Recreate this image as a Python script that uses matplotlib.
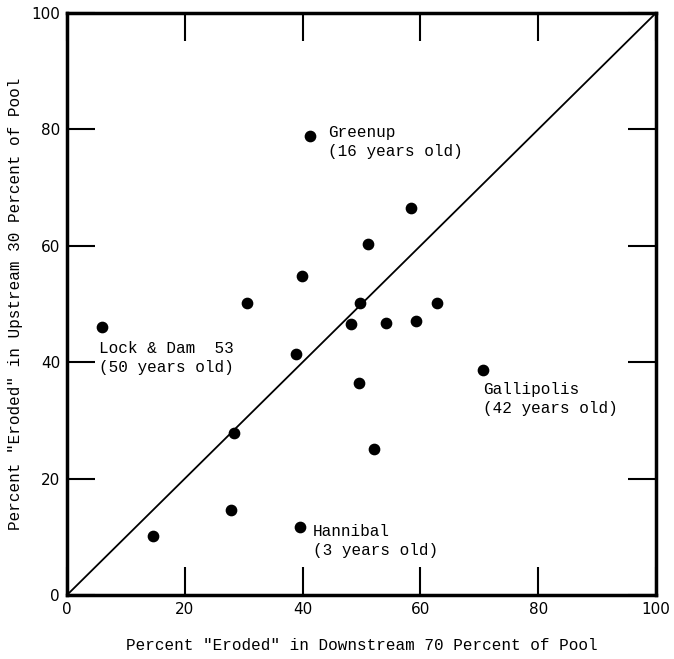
import matplotlib
matplotlib.use("Agg")
import matplotlib.pyplot as plt

# percent "eroded": downstream 70 % (x) vs upstream 30 % (y)
downstream = [5.9, 14.6, 27.8, 28.4, 30.6, 38.9, 39.6, 39.9, 41.3, 48.2,
              49.6, 49.7, 51.1, 52.1, 54.2, 59.3, 58.4, 62.8, 70.6]
upstream = [46.0, 10.1, 14.6, 27.8, 50.2, 41.4, 11.7, 54.8, 78.9, 46.6,
            36.4, 50.2, 60.3, 25.1, 46.7, 47.1, 66.5, 50.2, 38.7]

# named pools: label and text position
pool_names = ["Greenup\n(16 years old)", "Lock & Dam  53\n(50 years old)",
              "Gallipolis\n(42 years old)", "Hannibal\n(3 years old)"]
pool_text = [(44.3, 80.8), (5.4, 43.6), (70.6, 36.6), (41.8, 12.2)]

mono = "Liberation Mono"

fig = plt.figure(figsize=(6.74, 6.59), dpi=100)
ax = fig.add_axes([0.0994, 0.0971, 0.8739, 0.8832])

ax.plot([0, 100], [0, 100], color="black", lw=1.3)
ax.scatter(downstream, upstream, s=55, color="black", zorder=3)

for name, (tx, ty) in zip(pool_names, pool_text):
    ax.text(tx, ty, name, family=mono, fontsize=11.5, va="top", ha="left",
            linespacing=1.35)

ax.set_xlim(0, 100)
ax.set_ylim(0, 100)
ax.set_xticks([0, 20, 40, 60, 80, 100])
ax.set_yticks([0, 20, 40, 60, 80, 100])
ax.tick_params(direction="in", length=20, width=1.5, top=True, right=True,
               labelsize=11, pad=5)
for s in ax.spines.values():
    s.set_linewidth(2.5)

ax.set_xlabel('Percent "Eroded" in Downstream 70 Percent of Pool',
              family=mono, fontsize=11.5)
ax.set_ylabel('Percent "Eroded" in Upstream 30 Percent of Pool',
              family=mono, fontsize=11.5)
ax.xaxis.set_label_coords(0.5, -0.074)
ax.yaxis.set_label_coords(-0.075, 0.5)

fig.savefig("out.png", dpi=100)
